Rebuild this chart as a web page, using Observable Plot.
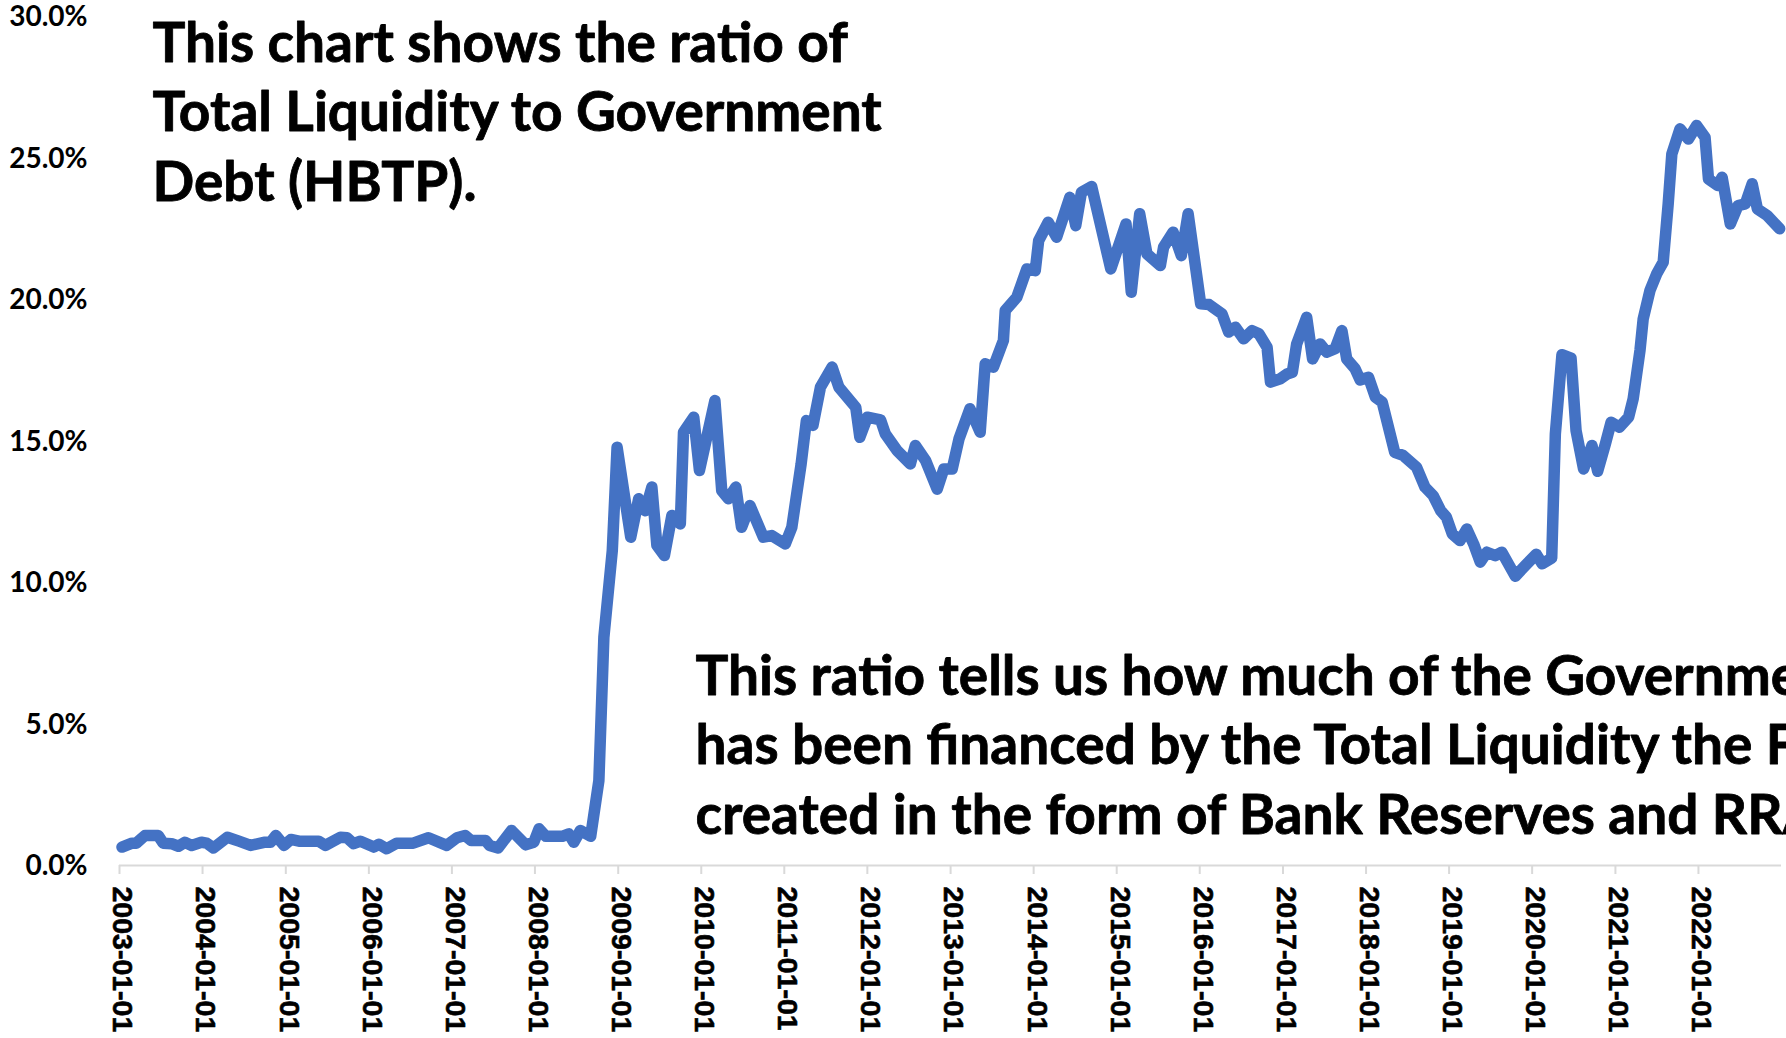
<!DOCTYPE html>
<html>
<head>
<meta charset="utf-8">
<script src="https://cdn.jsdelivr.net/npm/d3@7"></script>
<script src="https://cdn.jsdelivr.net/npm/@observablehq/plot@0.6"></script>
<style>
  html, body { margin: 0; padding: 0; background: #ffffff; overflow: hidden; }
  #chart svg { display: block; }
</style>
</head>
<body>
<div id="chart"></div>
<script>
// ---- data ----
const dates = [
  "2003-01-12","2003-02-25","2003-03-16","2003-04-23","2003-06-20","2003-07-12","2003-08-18","2003-09-17","2003-10-15","2003-11-14","2003-12-27",
  "2004-01-19","2004-02-18","2004-04-19","2004-06-09","2004-07-30","2004-09-27","2004-10-26","2004-11-18","2004-12-24",
  "2005-01-23","2005-02-28","2005-05-25","2005-06-24","2005-08-29","2005-09-27","2005-10-26","2005-11-25",
  "2006-01-23","2006-02-14","2006-03-20","2006-05-03","2006-07-15","2006-09-20","2006-12-09",
  "2007-01-23","2007-02-28","2007-03-27","2007-05-29","2007-06-16","2007-07-23","2007-09-20","2007-11-21","2007-12-27",
  "2008-01-19","2008-02-18","2008-04-30","2008-05-29","2008-06-20","2008-07-19","2008-09-02","2008-10-08","2008-10-30","2008-12-06","2008-12-27",
  "2009-02-25","2009-04-01","2009-04-30","2009-05-29","2009-06-20","2009-07-23","2009-08-25","2009-10-01","2009-10-15","2009-11-29","2009-12-24",
  "2010-03-02","2010-04-01","2010-04-30","2010-06-02","2010-06-27","2010-08-03","2010-10-01","2010-11-07",
  "2011-01-05","2011-02-03","2011-03-16","2011-04-08","2011-05-07","2011-06-09","2011-07-30","2011-08-29","2011-11-11","2011-11-29",
  "2012-01-01","2012-02-28","2012-03-20","2012-05-11","2012-07-08","2012-07-30","2012-09-13","2012-11-03","2012-12-02",
  "2013-01-08","2013-02-07","2013-03-27","2013-05-11","2013-06-02","2013-07-08","2013-08-21","2013-08-29","2013-10-19","2013-12-02",
  "2014-01-08","2014-01-23","2014-03-06","2014-04-12","2014-06-09","2014-07-05","2014-07-30","2014-09-13","2014-12-06",
  "2015-02-11","2015-03-06","2015-04-12","2015-05-14","2015-07-12","2015-07-26","2015-09-06","2015-10-12","2015-11-11",
  "2016-01-05","2016-02-11","2016-04-08","2016-05-07","2016-06-06","2016-07-12","2016-08-18","2016-09-17","2016-10-23","2016-11-07","2016-12-20",
  "2017-01-19","2017-02-11","2017-03-02","2017-04-15","2017-05-11","2017-06-13","2017-07-12","2017-08-18","2017-09-17","2017-10-08","2017-11-14","2017-12-06",
  "2018-01-12","2018-02-11","2018-03-13","2018-05-07","2018-06-13","2018-08-11","2018-09-17","2018-10-23","2018-11-25","2018-12-20",
  "2019-01-15","2019-02-18","2019-03-20","2019-04-19","2019-05-18","2019-06-16","2019-07-23","2019-08-21","2019-10-19","2019-12-02",
  "2020-01-19","2020-02-14","2020-03-27","2020-04-12","2020-05-11","2020-06-20","2020-07-12","2020-08-14","2020-09-20","2020-10-15","2020-11-18","2020-12-13",
  "2021-01-19","2021-02-28","2021-03-20","2021-04-19","2021-05-03","2021-06-02","2021-07-01","2021-07-30","2021-08-21","2021-09-06","2021-10-12","2021-11-18","2021-12-24",
  "2022-01-30","2022-02-14","2022-03-27","2022-04-15","2022-05-21","2022-06-24","2022-07-26","2022-08-25","2022-09-17","2022-10-30","2022-12-24"
];
const ratio = [
  0.65,0.79,0.79,1.06,1.06,0.79,0.77,0.68,0.82,0.71,0.82,
  0.79,0.62,1.00,0.86,0.71,0.82,0.82,1.06,0.71,
  0.92,0.86,0.86,0.71,1.00,0.98,0.77,0.86,
  0.65,0.75,0.59,0.79,0.79,0.98,0.71,
  0.98,1.06,0.88,0.88,0.71,0.62,1.24,0.73,0.82,
  1.30,1.03,1.03,1.12,0.82,1.24,1.03,3.0,8.07,11.13,14.78,
  11.6,12.96,12.54,13.37,11.31,10.95,12.37,12.07,15.31,15.84,13.96,
  16.43,13.25,12.96,13.37,11.95,12.72,11.6,11.66,
  11.36,11.95,14.19,15.72,15.55,16.90,17.61,16.90,16.19,15.13,
  15.84,15.75,15.25,14.66,14.19,14.84,14.31,13.30,14.01,
  14.01,15.08,16.14,15.31,17.73,17.61,18.55,19.61,20.08,21.08,
  21.02,22.08,22.73,22.20,23.61,22.61,23.79,23.99,21.08,
  22.67,20.26,23.03,21.61,21.20,21.85,22.38,21.55,23.03,
  19.85,19.82,19.49,18.85,19.02,18.61,18.90,18.79,18.31,17.08,17.20,
  17.37,17.43,18.43,19.37,17.90,18.43,18.14,18.26,18.90,17.90,17.55,17.16,
  17.25,16.55,16.37,14.60,14.49,14.07,13.37,13.07,12.54,12.31,
  11.72,11.48,11.89,11.36,10.72,11.07,10.95,11.07,10.22,10.60,
  11.00,10.66,10.86,15.25,18.05,17.93,15.37,14.01,14.84,13.93,14.90,15.66,
  15.49,15.84,16.49,18.20,19.31,20.32,20.90,21.32,23.38,25.14,26.03,25.67,26.15,
  25.73,24.26,24.03,24.32,22.67,23.32,23.38,24.09,23.20,22.97,22.50
];
const yTicks = [0, 5, 10, 15, 20, 25, 30];
const xTickLabels = [
  "2003-01-01","2004-01-01","2005-01-01","2006-01-01","2007-01-01",
  "2008-01-01","2009-01-01","2010-01-01","2011-01-01","2012-01-01",
  "2013-01-01","2014-01-01","2015-01-01","2016-01-01","2017-01-01",
  "2018-01-01","2019-01-01","2020-01-01","2021-01-01","2022-01-01"
];
const noteTop = [
  "This chart shows the ratio of",
  "Total Liquidity to Government",
  "Debt (HBTP)."
];
const noteBottom = [
  "This ratio tells us how much of the Government debt",
  "has been financed by the Total Liquidity the Fed has",
  "created in the form of Bank Reserves and RRA."
];

// ---- build ----
const series = dates.map((d, i) => ({date: new Date(d), value: ratio[i]}));
const xTicks = xTickLabels.map(s => new Date(s));

const blue = "#4472C4";
const axisGray = "#d9d9d9";
const noteFont = "Lato, 'Open Sans', sans-serif";
const noteSize = 55;
const noteLine = 69.5;

const chart = Plot.plot({
  width: 1786,
  height: 1038,
  marginLeft: 119,
  marginRight: 5,
  marginTop: 16,
  marginBottom: 173,
  style: {background: "#ffffff", color: "#000000", overflow: "hidden"},
  x: {type: "utc", domain: [new Date("2003-01-01"), new Date("2023-01-01")]},
  y: {domain: [0, 30]},
  marks: [
    // y axis labels
    Plot.axisY({
      ticks: yTicks,
      tickSize: 0,
      tickPadding: 32,
      tickFormat: d => d.toFixed(1) + "%",
      fontSize: 28,
      fontWeight: "bold",
      fontFamily: "Lato, sans-serif",
      fill: "#000000",
      dy: 1,
      label: null
    }),
    // x axis baseline
    Plot.ruleY([0], {stroke: axisGray, strokeWidth: 2}),
    // x axis ticks (no labels here)
    Plot.axisX({
      ticks: xTicks,
      tickSize: 9,
      stroke: axisGray,
      strokeWidth: 2,
      tickFormat: () => "",
      label: null
    }),
    // rotated tick labels
    Plot.text(xTickLabels, {
      x: d => new Date(d),
      y: 0,
      text: d => d,
      rotate: 90,
      textAnchor: "start",
      lineAnchor: "middle",
      dy: 21,
      dx: 3,
      fontSize: 28.5,
      fontWeight: "bold",
      fontFamily: "'Liberation Sans', Arial, sans-serif",
      fill: "#000000",
      stroke: "#000000",
      strokeWidth: 0.6
    }),
    // the ratio line
    Plot.line(series, {
      x: "date",
      y: "value",
      stroke: blue,
      strokeWidth: 11.5,
      strokeLinejoin: "round",
      strokeLinecap: "round"
    }),
    // annotations
    Plot.text([noteTop.join("\n")], {
      frameAnchor: "top-left",
      textAnchor: "start",
      lineAnchor: "bottom",
      lineHeight: noteLine / noteSize,
      dx: 33,
      dy: 184,
      fontSize: noteSize,
      fontWeight: "bold",
      fontFamily: noteFont,
      fill: "#000000",
      stroke: "#000000",
      strokeWidth: 0.8
    }),
    Plot.text([noteBottom.join("\n")], {
      frameAnchor: "top-left",
      textAnchor: "start",
      lineAnchor: "bottom",
      lineHeight: noteLine / noteSize,
      dx: 576,
      dy: 817,
      fontSize: noteSize,
      fontWeight: "bold",
      fontFamily: noteFont,
      fill: "#000000",
      stroke: "#000000",
      strokeWidth: 0.8
    })
  ]
});

document.getElementById("chart").appendChild(chart);
</script>
</body>
</html>
